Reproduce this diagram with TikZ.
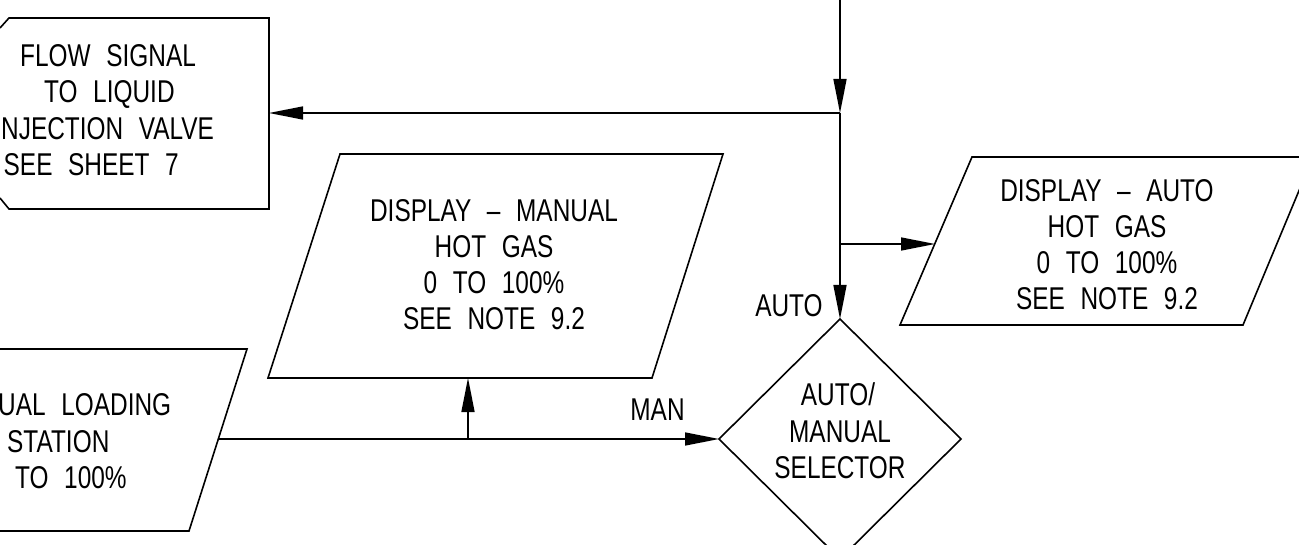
\documentclass[tikz,border=0pt]{standalone}
\usepackage{fontspec}
\setmainfont{Liberation Sans}[FakeStretch=0.775,WordSpace=2.3]
\usetikzlibrary{arrows.meta}
\tikzset{
  outline/.style={draw=black,line width=1.6pt,line join=miter},
  conn/.style={draw=black,line width=1.6pt},
  arr/.style={conn,-{Triangle[length=34pt,width=13pt]}},
  txt/.style={inner sep=0pt,anchor=base,font=\fontsize{31.5}{36}\selectfont},
  txtl/.style={txt,anchor=base west},
}
\begin{document}
\begin{tikzpicture}[x=1pt,y=-1pt]
\useasboundingbox (0,0) rectangle (1299,545);
\clip (0,0) rectangle (1299,545);
\fill[white] (0,0) rectangle (1299,545);

% shapes
\draw[outline] (0,28) -- (9,18) -- (269,18) -- (269,209) -- (9,209) -- (0,198);
\draw[outline] (340,154) -- (723,154) -- (652,378) -- (268,378) -- cycle;
\draw[outline] (972,157) -- (1313,157) -- (1243,325) -- (900,325) -- cycle;
\draw[outline] (-100,349) -- (247,349) -- (189,531) -- (-100,531);
\draw[outline] (840,319) -- (961,439) -- (840,559) -- (719,439) -- cycle;

% flow signal box
\node[txtl] (flow1) at (20,67) {FLOW SIGNAL};
\node[txtl] (flow2) at (44,103) {TO LIQUID};
\node[txtl] (flow3) at (1,140) {NJECTION VALVE};
\node[txtl] (flow4) at (3.5,176) {SEE SHEET 7};

% display manual
\node[txt] (dman1) at (494,222) {DISPLAY – MANUAL};
\node[txt] (dman2) at (494,258) {HOT GAS};
\node[txt] (dman3) at (494,294) {0 TO 100\%};
\node[txt] (dman4) at (494,330) {SEE NOTE 9.2};

% display auto
\node[txt] (dauto1) at (1107,202) {DISPLAY – AUTO};
\node[txt] (dauto2) at (1107,238) {HOT GAS};
\node[txt] (dauto3) at (1107,274) {0 TO 100\%};
\node[txt] (dauto4) at (1107,310) {SEE NOTE 9.2};

% manual loading station
\node[txtl] (mls1) at (-2,415) {UAL LOADING};
\node[txtl] (mls2) at (7,452) {STATION};
\node[txtl] (mls3) at (15,488) {TO 100\%};

% selector
\node[txt] (sel1) at (838,405) {AUTO/};
\node[txt] (sel2) at (840,442) {MANUAL};
\node[txt] (sel3) at (840,478) {SELECTOR};

% labels
\node[txt] (lauto) at (789,317) {AUTO};
\node[txt] (lman) at (657.5,420) {MAN};

% connection points
\coordinate (top) at (840,-5);
\coordinate (j1) at (840,113);
\coordinate (flowR) at (269,113);
\coordinate (jr) at (840,244);
\coordinate (dautoL) at (935,244);
\coordinate (selT) at (840,319);
\coordinate (selL) at (719,439);
\coordinate (mlsR) at (218,439);
\coordinate (mj) at (468,439);
\coordinate (dmanB) at (468,378);

% connectors
\draw[arr] (top) -- (j1);
\draw[arr] (j1) -- (flowR);
\draw[arr] (j1) -- (selT);
\draw[arr] (jr) -- (dautoL);
\draw[arr] (mlsR) -- (selL);
\draw[arr] (mj) -- (dmanB);
\end{tikzpicture}
\end{document}
